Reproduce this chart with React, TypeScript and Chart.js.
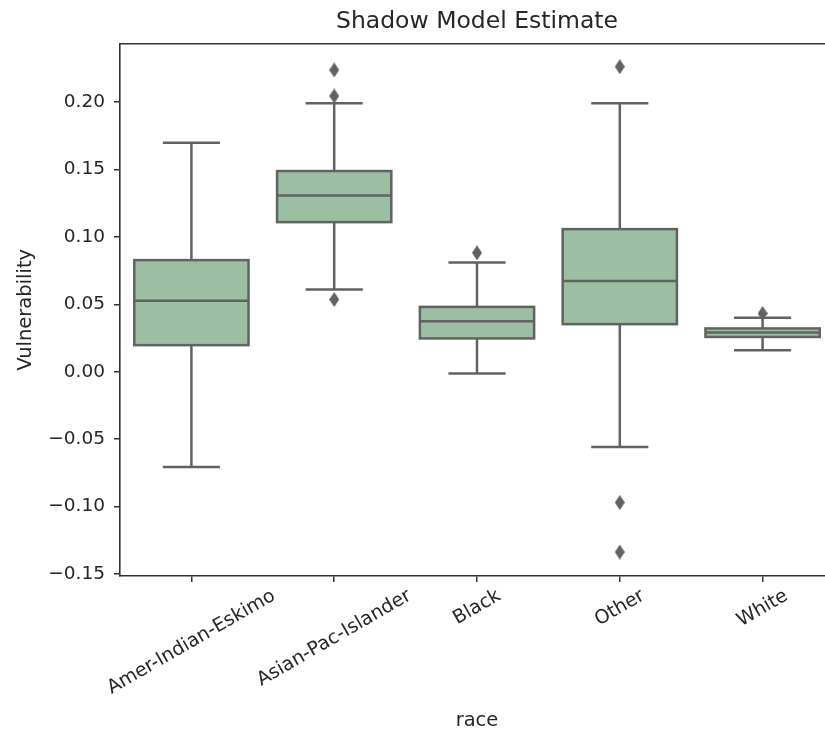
import React, { useEffect, useRef } from "react";
import { Chart, registerables } from "chart.js";

Chart.register(...registerables);

// ---- data ----
const categories = ["Amer-Indian-Eskimo", "Asian-Pac-Islander", "Black", "Other", "White"];
const whiskerLow = [-0.0707, 0.061, -0.0013, -0.0558, 0.016];
const q1 = [0.0197, 0.111, 0.0247, 0.0353, 0.0258];
const median = [0.0526, 0.1308, 0.0375, 0.0674, 0.0291];
const q3 = [0.0828, 0.1489, 0.0481, 0.1058, 0.0321];
const whiskerHigh = [0.1699, 0.1992, 0.0811, 0.1992, 0.04];
const outlierCategory = [1, 1, 1, 2, 3, 3, 3, 4];
const outlierValue = [0.2239, 0.2046, 0.0536, 0.0882, 0.2263, -0.0971, -0.1338, 0.0432];
const yTicks = [-0.15, -0.1, -0.05, 0.0, 0.05, 0.1, 0.15, 0.2];
const yMin = -0.1516;
const yMax = 0.2434;

const TITLE = "Shadow Model Estimate";
const X_TITLE = "race";
const Y_TITLE = "Vulnerability";

// ---- style ----
const FONT = '"DejaVu Sans", "Liberation Sans", sans-serif';
const LINE = "#626262";
const FILL = "#9cbfa4";
const AXIS = "#333333";
const TEXT = "#262626";

function makeDiamond(): HTMLCanvasElement {
  const c = document.createElement("canvas");
  c.width = 10;
  c.height = 15;
  const g = c.getContext("2d")!;
  g.fillStyle = LINE;
  g.beginPath();
  g.moveTo(5, 0);
  g.lineTo(10, 7.5);
  g.lineTo(5, 15);
  g.lineTo(0, 7.5);
  g.closePath();
  g.fill();
  return c;
}

function fmt(v: number): string {
  const s = Math.abs(v).toFixed(2);
  return v < -1e-9 ? "\u2212" + s : s;
}

const boxPlugin = {
  id: "boxes",
  beforeDatasetsDraw(chart: any) {
    const { ctx } = chart;
    const x = chart.scales.x;
    const y = chart.scales.y;
    ctx.save();
    ctx.lineWidth = 2.5;
    ctx.strokeStyle = LINE;
    ctx.lineCap = "butt";
    const seg = (x1: number, y1: number, x2: number, y2: number) => {
      ctx.beginPath();
      ctx.moveTo(x1, y1);
      ctx.lineTo(x2, y2);
      ctx.stroke();
    };
    categories.forEach((_, i) => {
      const cx = x.getPixelForValue(i);
      const left = x.getPixelForValue(i - 0.4);
      const right = x.getPixelForValue(i + 0.4);
      const capL = x.getPixelForValue(i - 0.2);
      const capR = x.getPixelForValue(i + 0.2);
      const yq1 = y.getPixelForValue(q1[i]);
      const yq3 = y.getPixelForValue(q3[i]);
      const ymed = y.getPixelForValue(median[i]);
      const ylo = y.getPixelForValue(whiskerLow[i]);
      const yhi = y.getPixelForValue(whiskerHigh[i]);
      seg(cx, yq3, cx, yhi);
      seg(cx, yq1, cx, ylo);
      seg(capL, yhi, capR, yhi);
      seg(capL, ylo, capR, ylo);
      ctx.fillStyle = FILL;
      ctx.fillRect(left, yq3, right - left, yq1 - yq3);
      ctx.strokeRect(left, yq3, right - left, yq1 - yq3);
      seg(left, ymed, right, ymed);
    });
    ctx.restore();
  },
  afterDraw(chart: any) {
    const { ctx, chartArea } = chart;
    const x = chart.scales.x;
    ctx.save();
    ctx.strokeStyle = AXIS;
    ctx.lineWidth = 1.6;
    ctx.beginPath();
    ctx.moveTo(chartArea.left, chartArea.top);
    ctx.lineTo(chartArea.right, chartArea.top);
    ctx.stroke();
    const rot = (30 * Math.PI) / 180;
    const fontSize = 19;
    const h = fontSize * 1.16;
    const top = chartArea.bottom + 9;
    ctx.font = `${fontSize}px ${FONT}`;
    ctx.fillStyle = TEXT;
    ctx.textAlign = "center";
    ctx.textBaseline = "middle";
    categories.forEach((label, i) => {
      const w = ctx.measureText(label).width;
      const H = w * Math.sin(rot) + h * Math.cos(rot);
      const cx = x.getPixelForValue(i);
      const cy = top + H / 2;
      ctx.save();
      ctx.translate(cx, cy);
      ctx.rotate(-rot);
      ctx.fillText(label, 0, 0);
      ctx.restore();
    });
    ctx.restore();
  },
};

export default function App() {
  const ref = useRef<HTMLCanvasElement | null>(null);

  useEffect(() => {
    if (!ref.current) return;
    const diamond = makeDiamond();
    const chart = new Chart(ref.current, {
      type: "scatter",
      data: {
        datasets: [
          {
            data: outlierCategory.map((c, i) => ({ x: c, y: outlierValue[i] })),
            pointStyle: diamond as any,
            pointRadius: 5,
            backgroundColor: LINE,
            borderColor: LINE,
          },
        ],
      },
      options: {
        responsive: false,
        animation: false,
        layout: { padding: { left: 0, right: 3.5, top: 0, bottom: 0 } },
        plugins: {
          legend: { display: false },
          tooltip: { enabled: false },
          title: {
            display: true,
            text: TITLE,
            fullSize: false,
            color: TEXT,
            font: { family: FONT, size: 23.5, weight: "normal" as any },
            padding: { top: 7.5, bottom: 8 },
          },
        },
        scales: {
          x: {
            type: "linear",
            min: -0.5,
            max: 4.5,
            afterBuildTicks: (s: any) => {
              s.ticks = categories.map((_, i) => ({ value: i }));
            },
            afterFit: (s: any) => {
              s.height = 740 - 576;
            },
            ticks: { display: false },
            grid: {
              drawOnChartArea: false,
              drawTicks: true,
              tickLength: 6,
              color: AXIS,
              lineWidth: 1.5,
            },
            border: { display: true, color: AXIS, width: 1.6 },
            title: {
              display: true,
              text: X_TITLE,
              color: TEXT,
              font: { family: FONT, size: 19.5 },
              padding: { top: 0, bottom: 7.5 },
            },
          },
          y: {
            type: "linear",
            min: yMin,
            max: yMax,
            afterBuildTicks: (s: any) => {
              s.ticks = yTicks.map((v) => ({ value: v }));
            },
            afterFit: (s: any) => {
              s.width = 120;
            },
            ticks: {
              callback: (v: any) => fmt(Number(v)),
              color: TEXT,
              font: { family: FONT, size: 18.5 },
              padding: 9,
            },
            grid: {
              drawOnChartArea: false,
              drawTicks: true,
              tickLength: 6,
              color: AXIS,
              lineWidth: 1.5,
            },
            border: { display: true, color: AXIS, width: 1.6 },
            title: {
              display: true,
              text: Y_TITLE,
              color: TEXT,
              font: { family: FONT, size: 19.5 },
              padding: { top: 14.5, bottom: 0 },
            },
          },
        },
      },
      plugins: [boxPlugin],
    });
    return () => chart.destroy();
  }, []);

  return (
    <div
      style={{
        position: "absolute",
        left: 0,
        top: 0,
        width: 825,
        height: 740,
        overflow: "hidden",
        background: "#ffffff",
      }}
    >
      <canvas ref={ref} width={840} height={740} style={{ display: "block", width: 840, height: 740 }} />
    </div>
  );
}
